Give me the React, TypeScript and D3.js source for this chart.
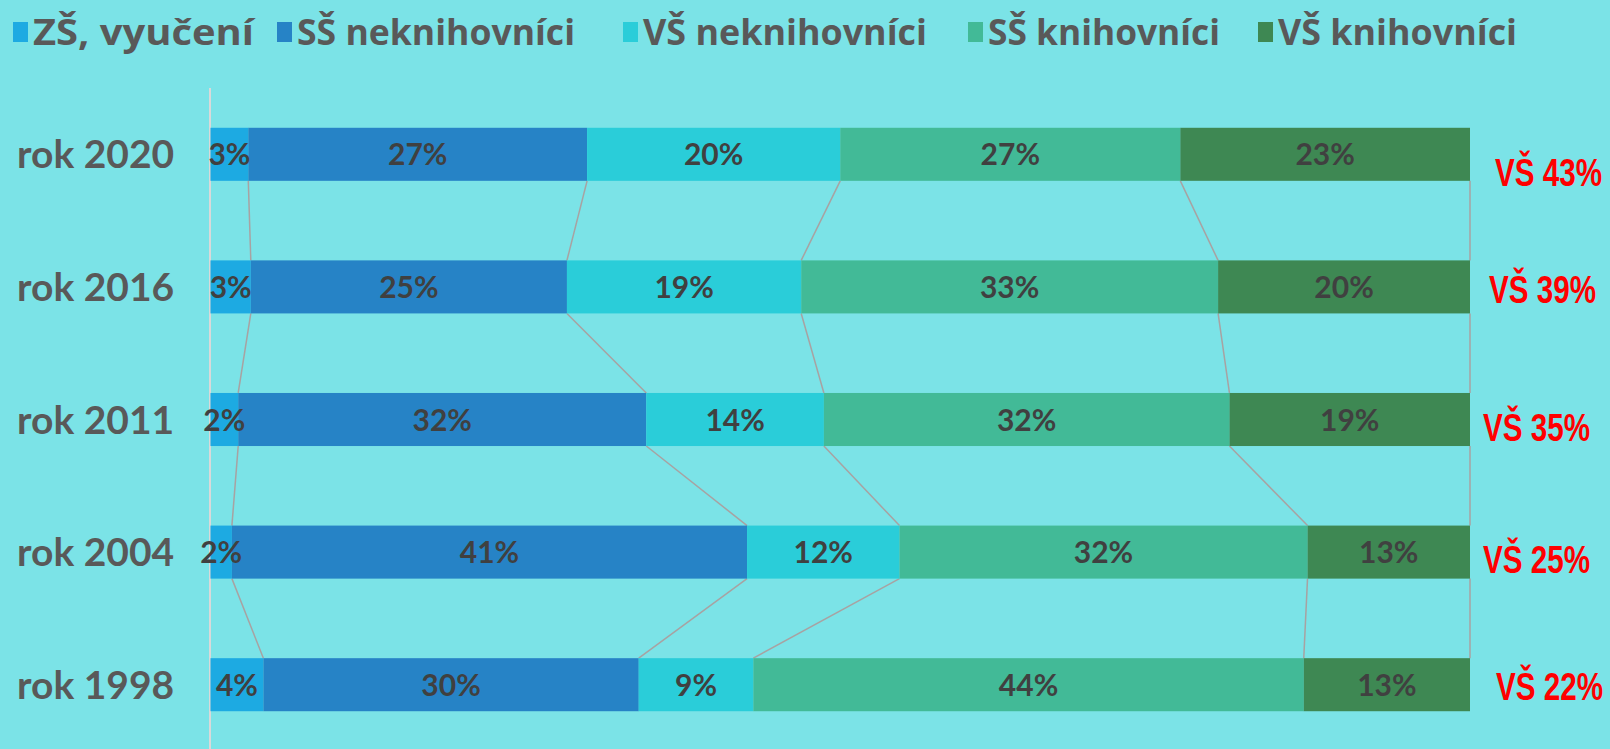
import React from 'react';
import * as d3 from 'd3';

// ---- data ----
const categories = ['rok 2020', 'rok 2016', 'rok 2011', 'rok 2004', 'rok 1998'];
const seriesNames = ['ZŠ, vyučení', 'SŠ neknihovníci', 'VŠ neknihovníci', 'SŠ knihovníci', 'VŠ knihovníci'];
const zsVyuceni = [3.0, 3.2, 2.2, 1.7, 4.2];
const ssNeknihovnici = [26.9, 25.1, 32.4, 40.9, 29.8];
const vsNeknihovnici = [20.1, 18.6, 14.1, 12.1, 9.1];
const ssKnihovnici = [27.0, 33.1, 32.2, 32.4, 43.7];
const vsKnihovnici = [23.0, 20.0, 19.1, 12.9, 13.2];
const vsTotals = ['VŠ 43%', 'VŠ 39%', 'VŠ 35%', 'VŠ 25%', 'VŠ 22%'];

// ---- styles / layout ----
const W = 1610;
const H = 749;
const colors = ['#1DAAE2', '#2683C6', '#2ACDD9', '#42BA97', '#3E8853'];
const bg = '#7BE3E7';
const legendX = [13, 277, 623, 968, 1258];
const legendTextW = [221, 278, 284, 232, 239];
const totalNudgeX = [1495, 1489, 1483, 1483, 1496];
const totalNudgeY = [18, 2.5, 7, 7, 1];

const seriesValues = [zsVyuceni, ssNeknihovnici, vsNeknihovnici, ssKnihovnici, vsKnihovnici];
const keys = seriesNames.map((_, i) => 's' + i);

export default function App() {
  const rows = categories.map((c, r) => {
    const o: any = { cat: c };
    keys.forEach((k, s) => (o[k] = seriesValues[s][r]));
    return o;
  });
  const stacked = d3.stack<any>().keys(keys).offset(d3.stackOffsetExpand)(rows);

  const x = d3.scaleLinear().domain([0, 1]).range([210.5, 1470]);
  const y = d3
    .scaleBand<string>()
    .domain(categories)
    .range([88, 751])
    .paddingInner(0.6)
    .paddingOuter(0.3);
  const bh = y.bandwidth();

  // connector lines
  const connectors: any[] = [];
  for (let r = 0; r < categories.length - 1; r++) {
    stacked.forEach((layer, s) => {
      connectors.push({
        key: `c${r}-${s}`,
        x1: x(layer[r][1]),
        y1: (y(categories[r]) as number) + bh,
        x2: x(layer[r + 1][1]),
        y2: y(categories[r + 1]) as number,
      });
    });
  }

  const labelFont = 'Lato, "Open Sans", sans-serif';

  return (
    <svg
      width={W}
      height={H}
      style={{ position: 'fixed', left: 0, top: 0, display: 'block' }}
    >
      <rect x={0} y={0} width={W} height={H} fill={bg} />

      {/* legend */}
      {seriesNames.map((n, i) => (
        <g key={n}>
          <rect x={legendX[i]} y={22} width={15} height={20} fill={colors[i]} />
          <text
            x={legendX[i] + 20}
            y={45}
            fontFamily='"Open Sans", sans-serif'
            fontWeight={700}
            fontSize={35}
            fill="#595959"
            textLength={legendTextW[i]}
            lengthAdjust="spacingAndGlyphs"
          >
            {n}
          </text>
        </g>
      ))}

      {/* axis line */}
      <line x1={210} x2={210} y1={88} y2={H} stroke="#D9D9D9" strokeWidth={2} />

      {/* connectors */}
      {connectors.map((c) => (
        <line key={c.key} x1={c.x1} y1={c.y1} x2={c.x2} y2={c.y2} stroke="#A8A2A2" strokeWidth={1.5} />
      ))}

      {/* bars */}
      {stacked.map((layer, s) => (
        <g key={layer.key} fill={colors[s]}>
          {layer.map((d, r) => (
            <rect
              key={r}
              x={x(d[0])}
              y={y(categories[r])}
              width={x(d[1]) - x(d[0])}
              height={bh}
            />
          ))}
        </g>
      ))}

      {/* bar labels */}
      {stacked.map((layer, s) =>
        layer.map((d, r) => (
          <text
            key={`l${s}-${r}`}
            x={(x(d[0]) + x(d[1])) / 2}
            y={(y(categories[r]) as number) + bh / 2 + 11}
            textAnchor="middle"
            fontFamily={labelFont}
            fontWeight={700}
            fontSize={30}
            fill="#404040"
          >
            {Math.round(seriesValues[s][r]) + '%'}
          </text>
        ))
      )}

      {/* category labels */}
      {categories.map((c) => (
        <text
          key={c}
          x={17}
          y={(y(c) as number) + bh / 2 + 14}
          fontFamily={labelFont}
          fontWeight={700}
          fontSize={39}
          fill="#595959"
        >
          {c}
        </text>
      ))}

      {/* VŠ totals */}
      {vsTotals.map((t, r) => (
        <text
          key={t}
          transform={`translate(${totalNudgeX[r]},${(y(categories[r]) as number) + bh / 2 + totalNudgeY[r] + 14}) scale(0.78,1)`}
          fontFamily='"Liberation Sans", Arial, sans-serif'
          fontWeight={700}
          fontSize={38}
          fill="#FF0000"
        >
          {t}
        </text>
      ))}
    </svg>
  );
}
